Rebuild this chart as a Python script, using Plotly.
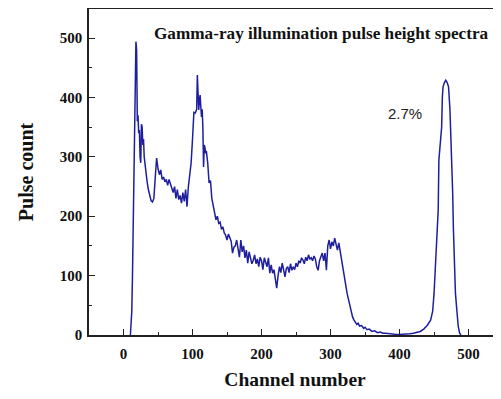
import plotly.graph_objects as go

channel = [10, 12, 13, 14, 15, 16, 17, 18, 19, 20, 21, 22, 23, 24, 25, 26, 27, 28, 29, 30,
           31, 32, 34, 36, 38, 40, 42, 44, 46, 48, 50, 52, 54, 56, 58, 60, 62, 64, 66, 68,
           70, 72, 74, 76, 78, 80, 82, 84, 86, 88, 90, 92, 94, 96, 98, 100, 102, 104, 106, 107,
           108, 109, 110, 111, 112, 113, 114, 115, 116, 117, 118, 119, 120, 122, 124, 126, 128, 130, 132, 134,
           136, 138, 140, 142, 144, 146, 148, 150, 152, 154, 156, 158, 160, 162, 164, 166, 168, 170, 172, 174,
           176, 178, 180, 182, 184, 186, 188, 190, 192, 194, 196, 198, 200, 202, 204, 206, 208, 210, 212, 214,
           216, 218, 220, 222, 224, 226, 228, 230, 232, 234, 236, 238, 240, 242, 244, 246, 248, 250, 252, 254,
           256, 258, 260, 262, 264, 266, 268, 270, 272, 274, 276, 278, 280, 282, 284, 286, 288, 290, 292, 294,
           296, 298, 300, 302, 304, 306, 308, 310, 312, 314, 316, 318, 320, 322, 324, 326, 328, 330, 332, 334,
           336, 338, 340, 342, 345, 348, 350, 353, 356, 360, 364, 368, 372, 376, 380, 385, 390, 395, 400, 405,
           410, 415, 420, 425, 430, 435, 440, 445, 448, 450, 452, 454, 456, 457, 459, 461, 462, 463, 465, 467,
           469, 471, 473, 474, 476, 477, 478, 479, 481, 483, 485, 487, 489]

counts = [0, 40, 100, 200, 300, 380, 420, 494, 480, 360, 370, 340, 345, 300, 290, 355, 350, 320, 330, 300,
          290, 270, 260, 245, 232, 226, 224, 230, 265, 298, 280, 270, 278, 262, 266, 258, 262, 252, 262, 255,
          245, 240, 250, 230, 245, 228, 235, 222, 240, 225, 245, 216, 250, 270, 290, 330, 375, 374, 380, 438,
          400, 379, 395, 404, 385, 367, 380, 350, 283, 320, 316, 306, 310, 290, 256, 260, 230, 216, 205, 194,
          200, 188, 190, 178, 182, 172, 168, 160, 170, 165, 158, 138, 148, 150, 160, 145, 131, 160, 140, 150,
          130, 143, 121, 140, 130, 120, 126, 135, 120, 128, 115, 131, 125, 110, 130, 121, 115, 130, 104, 118,
          104, 110, 95, 79, 100, 115, 105, 121, 110, 98, 112, 115, 105, 120, 109, 115, 110, 121, 115, 125,
          121, 130, 126, 120, 131, 125, 135, 128, 130, 125, 133, 128, 115, 109, 125, 131, 138, 125, 138, 109,
          150, 160, 145, 157, 150, 163, 155, 143, 155, 140, 126, 110, 100, 85, 70, 60, 48, 40, 30, 25,
          22, 18, 20, 15, 16, 11, 13, 9, 10, 6, 7, 4, 5, 3, 3, 2, 1, 1, 1, 1,
          2, 2, 3, 4, 6, 10, 16, 25, 40, 70, 126, 175, 210, 295, 323, 350, 400, 418, 425, 429,
          425, 418, 380, 350, 280, 239, 180, 126, 70, 42, 15, 3, 0]

x_ticks = [0, 100, 200, 300, 400, 500]
y_ticks = [0, 100, 200, 300, 400, 500]

serif = "Liberation Serif, Times New Roman, serif"

fig = go.Figure()
fig.add_trace(go.Scatter(x=channel, y=counts, mode="lines",
                         line=dict(color="#1f1f9e", width=1.5), showlegend=False))

# page body adds an 8px offset, so the figure is sized to fill the 501x399 window
fig.update_layout(
    width=493, height=391,
    margin=dict(l=81, r=0, t=1, b=64),
    paper_bgcolor="white", plot_bgcolor="white",
    font=dict(family=serif, color="#111111"),
    xaxis=dict(range=[-50, 547], tickvals=x_ticks, ticks="inside", ticklen=6, tickwidth=1.2,
               tickcolor="#222", showline=True, linecolor="#222", linewidth=1.5, mirror=True,
               showgrid=False, zeroline=False, automargin=False,
               minor=dict(tickvals=[-50, 50, 150, 250, 350, 450], ticks="inside", ticklen=3, tickcolor="#222"),
               tickfont=dict(family=serif, size=15, color="#111", weight="bold"),
               ticklabelstandoff=4,
               title=dict(text="Channel number", font=dict(family=serif, size=19.5, color="#111", weight="bold"),
                          standoff=12)),
    yaxis=dict(range=[0, 549], tickvals=y_ticks, ticks="inside", ticklen=6, tickwidth=1.2,
               tickcolor="#222", showline=True, linecolor="#222", linewidth=1.5, mirror=False,
               showgrid=False, zeroline=False, automargin=False,
               minor=dict(tickvals=[50, 150, 250, 350, 450], ticks="inside", ticklen=3, tickcolor="#222"),
               tickfont=dict(family=serif, size=15, color="#111", weight="bold"),
               ticklabelstandoff=2,
               title=dict(text="Pulse count", font=dict(family=serif, size=20, color="#111", weight="bold"),
                          standoff=21)),
)

fig.add_annotation(text="<b>Gamma-ray illumination pulse height spectra</b>", x=(151 - 123) / 0.69, y=(335 - 33) / 0.594,
                   xref="x", yref="y", xanchor="left", yanchor="middle", showarrow=False,
                   font=dict(family=serif, size=17.2, color="#111"))
fig.add_annotation(text="2.7%", x=(385 - 123) / 0.69, y=(335 - 113) / 0.594,
                   xref="x", yref="y", xanchor="left", yanchor="middle", showarrow=False,
                   font=dict(family="Liberation Sans, Arial, sans-serif", size=15, color="#222"))

fig.write_html("out.html")
